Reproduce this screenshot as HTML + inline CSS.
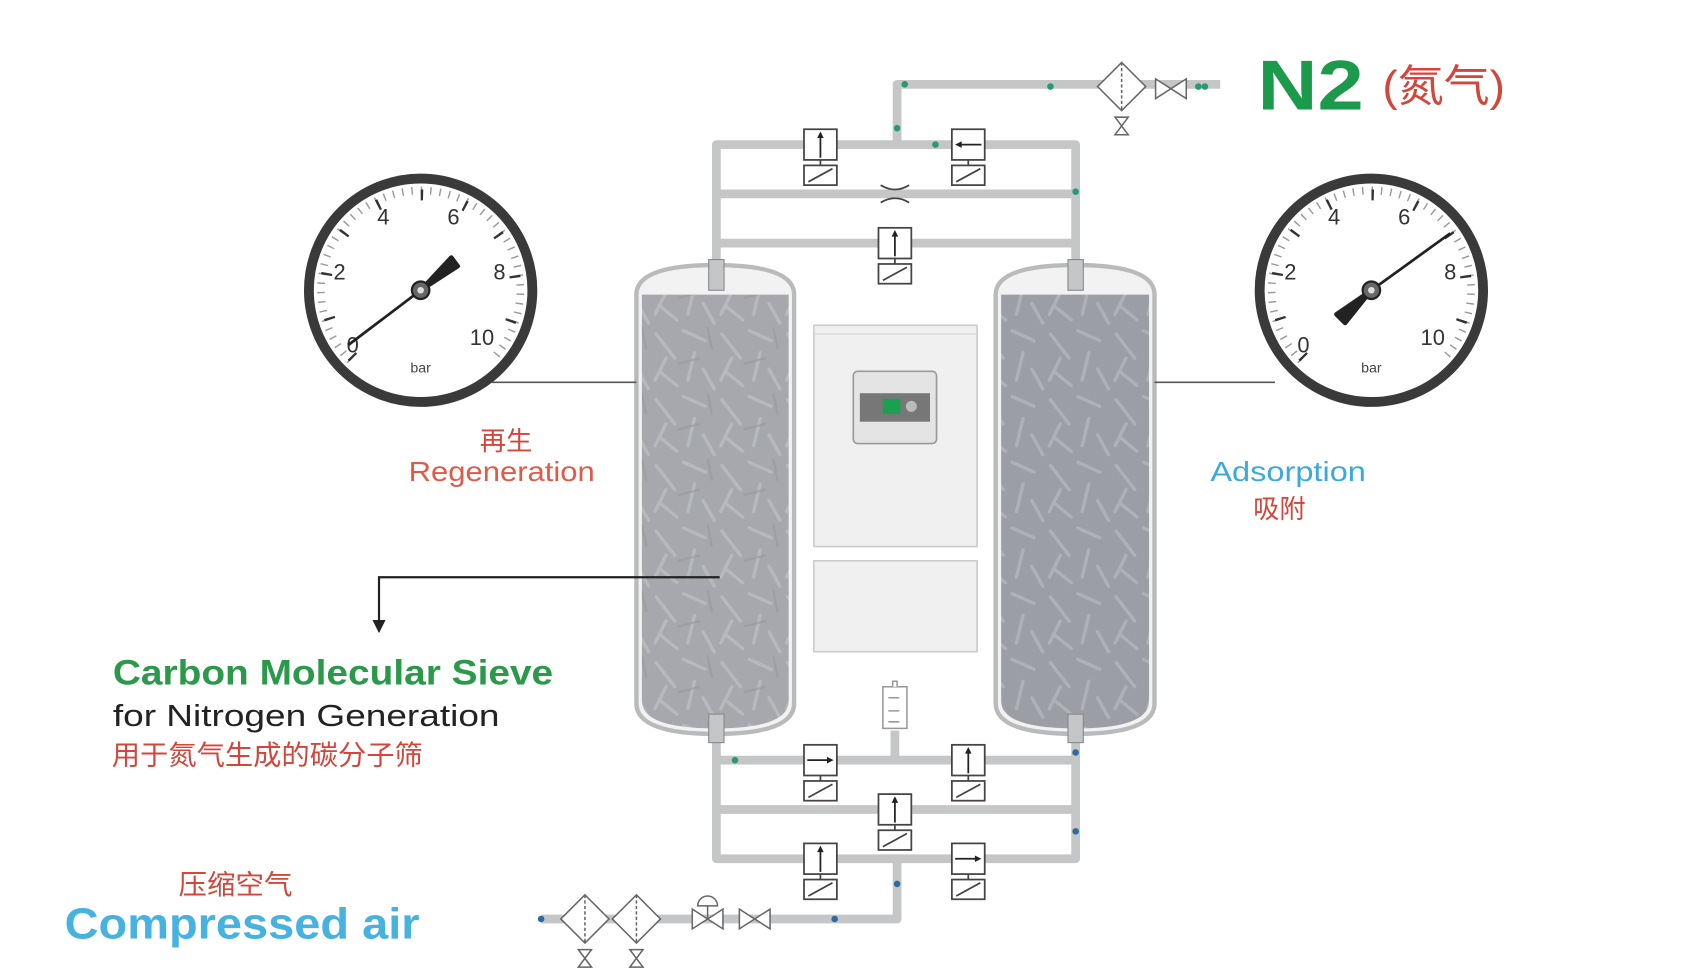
<!DOCTYPE html>
<html><head><meta charset="utf-8"><style>
html,body{margin:0;padding:0;background:#fff;}
svg{display:block;}
text{font-family:"Liberation Sans","Noto Sans CJK SC",sans-serif;}
</style></head><body>
<svg width="1700" height="979" viewBox="0 0 1552 893.8" xmlns="http://www.w3.org/2000/svg">
<defs>
<pattern id="tex" width="60" height="60" patternUnits="userSpaceOnUse">
<rect width="60" height="60" fill="#a6a8ad"/>
<g stroke="#c2c4c8" stroke-width="3" stroke-linecap="round" opacity="0.6">
<line x1="5" y1="8" x2="22" y2="30"/><line x1="30" y1="5" x2="50" y2="14"/>
<line x1="40" y1="25" x2="34" y2="50"/><line x1="8" y1="42" x2="24" y2="55"/>
<line x1="48" y1="40" x2="58" y2="58"/><line x1="14" y1="30" x2="4" y2="50"/>
</g>
<g stroke="#95979c" stroke-width="2" opacity="0.6"><line x1="25" y1="35" x2="45" y2="30"/><line x1="52" y1="2" x2="56" y2="22"/></g>
</pattern>
<pattern id="tex2" width="60" height="60" patternUnits="userSpaceOnUse">
<rect width="60" height="60" fill="#9c9ea5"/>
<g stroke="#bcbec4" stroke-width="3" stroke-linecap="round" opacity="0.6">
<line x1="5" y1="8" x2="22" y2="30"/><line x1="30" y1="5" x2="50" y2="14"/>
<line x1="40" y1="25" x2="34" y2="50"/><line x1="8" y1="42" x2="24" y2="55"/>
<line x1="48" y1="40" x2="58" y2="58"/><line x1="14" y1="30" x2="4" y2="50"/>
</g>
</pattern>
<g id="vbody" fill="#fff" stroke="#444" stroke-width="1.6">
<rect x="-15" y="-14" width="30" height="28"/>
<line x1="0" y1="14" x2="0" y2="19"/>
<rect x="-15" y="19" width="30" height="18"/>
<line x1="-11" y1="34" x2="11" y2="22"/>
</g>
<g id="aup"><line x1="0" y1="12" x2="0" y2="-8" stroke="#222" stroke-width="1.6"/><path d="M-3,-6 L0,-12 L3,-6Z" fill="#222"/></g>
<g id="ari"><line x1="-12" y1="0" x2="8" y2="0" stroke="#222" stroke-width="1.6"/><path d="M6,-3 L12,0 L6,3Z" fill="#222"/></g>
<g id="ale"><line x1="12" y1="0" x2="-8" y2="0" stroke="#222" stroke-width="1.6"/><path d="M-6,-3 L-12,0 L-6,3Z" fill="#222"/></g>
<g id="filt" fill="#fff" stroke="#666" stroke-width="1.4">
<path d="M-22,0 L0,-22 L22,0 L0,22Z"/><line x1="0" y1="-22" x2="0" y2="22" stroke-dasharray="3 2"/>
<path d="M-6,28 L6,28 L-6,44 L6,44Z"/>
</g>
<g id="bow" fill="#fff" stroke="#666" stroke-width="1.4"><path d="M-14,-9 L14,9 L14,-9 L-14,9Z"/></g>
<g id="gauge">
<circle r="102" fill="#fff" stroke="#3a3a3a" stroke-width="9"/>
<path d="M-64.3,64.3 A91,91 0 1 1 64.3,64.3" fill="none" stroke="#999" stroke-width="7" stroke-dasharray="1.3 7.28"/>
<path d="M-61.5,61.5 A87,87 0 1 1 61.5,61.5" fill="none" stroke="#333" stroke-width="10" stroke-dasharray="2.2 38.8"/>
<g font-size="20" fill="#333" text-anchor="middle">
<text x="-62" y="57">0</text><text x="-74" y="-10">2</text><text x="-34" y="-60">4</text>
<text x="30" y="-60">6</text><text x="72" y="-10">8</text><text x="56" y="50">10</text>
</g>
<text x="0" y="75" font-size="13" fill="#444" text-anchor="middle">bar</text>
</g>
</defs>

<g transform="translate(-6,-3)">
<g fill="none" stroke="#c4c6c7" stroke-width="8" stroke-linejoin="round">
<path d="M825,135 L825,80 L1120,80"/>
<path d="M660,262 L660,135 L988,135 L988,262"/>
<line x1="660" y1="180" x2="988" y2="180"/>
<line x1="660" y1="225" x2="988" y2="225"/>
<path d="M660,672 L660,787 L988,787 L988,672"/>
<line x1="660" y1="697" x2="988" y2="697"/>
<line x1="660" y1="742" x2="988" y2="742"/>
<line x1="823" y1="670" x2="823" y2="697"/>
<path d="M825,787 L825,842 L500,842"/>
</g>
<g fill="#2a9a6e"><circle cx="832" cy="80" r="3"/><circle cx="965" cy="82" r="3"/><circle cx="825" cy="120" r="3"/><circle cx="860" cy="135" r="3"/><circle cx="988" cy="178" r="3"/><circle cx="660" cy="266" r="3"/><circle cx="677" cy="697" r="3"/><circle cx="1100" cy="82" r="3"/><circle cx="1106" cy="82" r="3"/><circle cx="1040" cy="82" r="3"/></g>
<g fill="#2e6aa0"><circle cx="988" cy="690" r="3"/><circle cx="988" cy="762" r="3"/><circle cx="825" cy="810" r="3"/><circle cx="768" cy="842" r="3"/><circle cx="500" cy="842" r="3"/><circle cx="590" cy="842" r="3"/><circle cx="686" cy="842" r="3"/></g>

<path d="M587,272 Q587,245 659,245 Q731,245 731,272 L731,645 Q731,673 659,673 Q587,673 587,645Z" fill="#f2f2f2" stroke="#b8babb" stroke-width="4"/>
<path d="M592,272 L726,272 L726,643 Q726,668 659,668 Q592,668 592,643Z" fill="url(#tex)"/>
<path d="M915,272 Q915,245 988,245 Q1060,245 1060,272 L1060,645 Q1060,673 988,673 Q915,673 915,645Z" fill="#f2f2f2" stroke="#b8babb" stroke-width="4"/>
<path d="M920,272 L1055,272 L1055,643 Q1055,668 988,668 Q920,668 920,643Z" fill="url(#tex2)"/>
<g fill="#c4c6c7" stroke="#888" stroke-width="1"><rect x="653" y="240" width="14" height="28"/><rect x="981" y="240" width="14" height="28"/><rect x="653" y="655" width="14" height="26"/><rect x="981" y="655" width="14" height="26"/></g>

<use href="#vbody" x="755" y="135"/><use href="#aup" x="755" y="135"/>
<use href="#vbody" x="890" y="135"/><use href="#ale" x="890" y="135"/>
<use href="#vbody" x="823" y="225"/><use href="#aup" x="823" y="225"/>
<path d="M810,172 Q823,180 836,172 M810,188 Q823,180 836,188" fill="none" stroke="#444" stroke-width="1.6"/>
<use href="#filt" x="1030" y="82"/><use href="#bow" x="1075" y="84"/>
<use href="#vbody" x="755" y="697"/><use href="#ari" x="755" y="697"/>
<use href="#vbody" x="890" y="697"/><use href="#aup" x="890" y="697"/>
<use href="#vbody" x="823" y="742"/><use href="#aup" x="823" y="742"/>
<use href="#vbody" x="755" y="787"/><use href="#aup" x="755" y="787"/>
<use href="#vbody" x="890" y="787"/><use href="#ari" x="890" y="787"/>
<g fill="#fff" stroke="#999" stroke-width="1.4"><rect x="812" y="630" width="22" height="38"/><path d="M817,640h10M817,652h10M817,662h10M821,630v-5h4v5"/></g>
<use href="#filt" x="540" y="842"/><use href="#filt" x="587" y="842"/>
<g fill="#fff" stroke="#666" stroke-width="1.4"><path d="M638,833 L666,851 L666,833 L638,851Z"/><path d="M643,830 A9,9 0 0 1 661,830Z"/><line x1="652" y1="830" x2="652" y2="842"/></g>
<use href="#bow" x="695" y="842"/>

<rect x="749" y="300" width="149" height="202" fill="#f0f0f0" stroke="#ccc" stroke-width="1.5"/>
<line x1="749" y1="308" x2="898" y2="308" stroke="#d5d5d5"/>
<rect x="749" y="515" width="149" height="83" fill="#f0f0f0" stroke="#ccc" stroke-width="1.5"/>
<rect x="785" y="342" width="76" height="66" rx="4" fill="#e4e4e4" stroke="#999" stroke-width="1.5"/>
<rect x="791" y="362" width="64" height="26" fill="#777"/>
<rect x="812" y="367" width="16" height="14" fill="#1aa050"/>
<circle cx="838" cy="374" r="5" fill="#bbb"/>

<line x1="455" y1="352" x2="587" y2="352" stroke="#555" stroke-width="1.5"/>
<line x1="1060" y1="352" x2="1170" y2="352" stroke="#555" stroke-width="1.5"/>
<g transform="translate(390,268)"><use href="#gauge"/>
<line x1="0" y1="0" x2="-66" y2="50" stroke="#222" stroke-width="2.5"/>
<path d="M0,0 L28,-30 L34,-22Z" fill="#222" stroke="#222" stroke-width="4" stroke-linejoin="round"/>
<circle r="8" fill="#666" stroke="#222" stroke-width="2"/><circle r="3" fill="#ddd"/></g>
<g transform="translate(1258,268)"><use href="#gauge"/>
<line x1="0" y1="0" x2="72" y2="-52" stroke="#222" stroke-width="2.5"/>
<path d="M0,0 L-32,22 L-24,30Z" fill="#222" stroke="#222" stroke-width="4" stroke-linejoin="round"/>
<circle r="8" fill="#666" stroke="#222" stroke-width="2"/><circle r="3" fill="#ddd"/></g>
<path d="M663,530 L352,530 L352,573" fill="none" stroke="#222" stroke-width="2"/>
<path d="M346,569 L352,581 L358,569Z" fill="#222"/>
</g>

<text x="1148" y="100" font-size="64" font-weight="bold" fill="#1a9a4a" textLength="97" lengthAdjust="spacingAndGlyphs">N2</text>
<text x="1262" y="92" font-size="40" fill="#d4453a" textLength="112" lengthAdjust="spacingAndGlyphs">(氮气)</text>
<text x="438" y="411" font-size="24" fill="#d4453a">再生</text>
<text x="373" y="439" font-size="25" fill="#e05a48" textLength="170" lengthAdjust="spacingAndGlyphs">Regeneration</text>
<text x="1105" y="439" font-size="25" fill="#3aaadc" textLength="142" lengthAdjust="spacingAndGlyphs">Adsorption</text>
<text x="1144" y="473" font-size="24" fill="#d4453a">吸附</text>
<text x="103" y="625" font-size="32" font-weight="bold" fill="#2a9a4a" textLength="402" lengthAdjust="spacingAndGlyphs">Carbon Molecular Sieve</text>
<text x="103" y="663" font-size="28" fill="#222" textLength="353" lengthAdjust="spacingAndGlyphs">for Nitrogen Generation</text>
<text x="102" y="698" font-size="25" fill="#d4453a" textLength="284" lengthAdjust="spacingAndGlyphs">用于氮气生成的碳分子筛</text>
<text x="163" y="816" font-size="25" fill="#d4453a" textLength="104" lengthAdjust="spacingAndGlyphs">压缩空气</text>
<text x="59" y="857" font-size="40" font-weight="bold" fill="#45b2e0" textLength="324" lengthAdjust="spacingAndGlyphs">Compressed air</text>
</svg>
</body></html>
